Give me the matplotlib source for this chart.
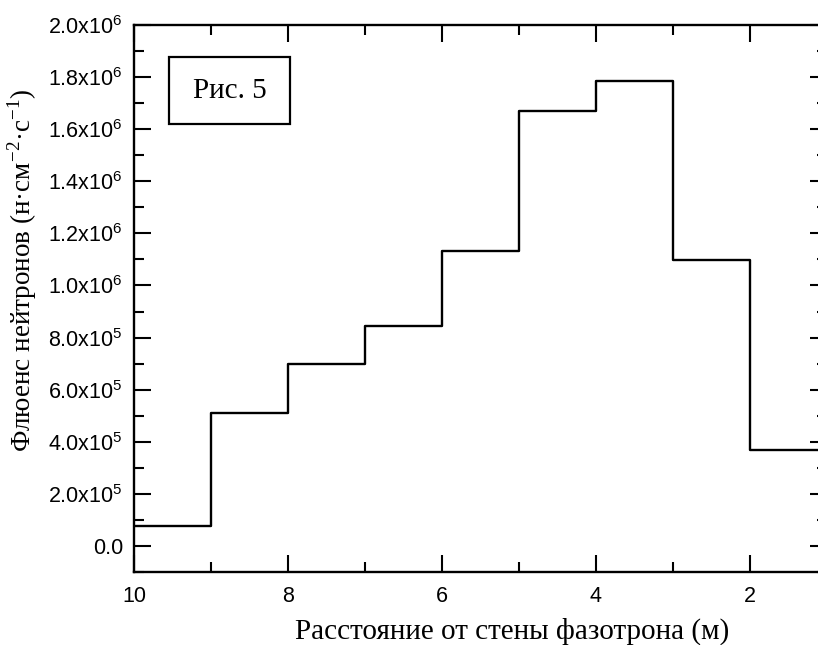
import matplotlib
matplotlib.use("Agg")
import matplotlib.pyplot as plt
from matplotlib.patches import Rectangle
from matplotlib.ticker import MultipleLocator, FuncFormatter

# bin edges (m from the wall) and neutron fluence in each bin
edges = [10, 9, 8, 7, 6, 5, 4, 3, 2, 1]
fluence = [7.7e4, 5.11e5, 6.97e5, 8.44e5, 1.133e6, 1.669e6, 1.785e6, 1.097e6, 3.67e5]

x_ticks = [10, 8, 6, 4, 2]

plt.rcParams['mathtext.fontset'] = 'custom'
plt.rcParams['mathtext.rm'] = 'Liberation Sans'
plt.rcParams['mathtext.it'] = 'Liberation Sans:italic'

fig = plt.figure(figsize=(8.18, 6.45), dpi=100)
# right spine falls just outside the picture, as in the original
ax = fig.add_axes([134 / 818, 73 / 645, (827 - 134) / 818, 547 / 645])

ax.step(edges, fluence + [fluence[-1]], where='post', color='black', lw=1.7)

ax.set_xlim(10, 1)
ax.set_ylim(-1e5, 2e6)

ax.set_xticks(x_ticks)
ax.xaxis.set_minor_locator(MultipleLocator(1))
ax.yaxis.set_major_locator(MultipleLocator(2e5))
ax.yaxis.set_minor_locator(MultipleLocator(1e5))


def sci_fmt(v, pos):
    # labels like 2.0x10^5, zero written as 0.0
    if abs(v) < 1:
        return '0.0'
    exp = 0
    m = v
    while abs(m) >= 10:
        m /= 10
        exp += 1
    return r'$\mathregular{%.1fx10^{%d}}$' % (m, exp)


ax.yaxis.set_major_formatter(FuncFormatter(sci_fmt))

ax.tick_params(which='both', direction='in', top=True, right=True, width=1.5,
               labelsize=15.5, labelfontfamily='Liberation Sans')
ax.tick_params(which='major', length=12)
ax.tick_params(which='minor', length=7)
ax.tick_params(axis='y', pad=8)
ax.tick_params(axis='x', pad=10)
for s in ax.spines.values():
    s.set_linewidth(1.7)

ax.set_xlabel('Расстояние от стены фазотрона (м)', family='Liberation Serif',
              fontsize=21, labelpad=8)
ax.xaxis.label.set_x(0.545)
ax.set_ylabel(r'Флюенс нейтронов (н·см$^{\mathregular{-2}}$·с$^{\mathregular{-1}}$)',
              family='Liberation Serif', fontsize=19.5, labelpad=7)
ax.yaxis.label.set_y(0.552)

# "Рис. 5" label in a framed box
ax.add_patch(Rectangle((0.0505, 0.819), 0.1745, 0.1225, transform=ax.transAxes,
                       fc='white', ec='black', lw=1.6))
ax.text(0.138, 0.88, 'Рис. 5', transform=ax.transAxes, family='Liberation Serif',
        fontsize=21, ha='center', va='center')

fig.savefig('out.png', dpi=100)
